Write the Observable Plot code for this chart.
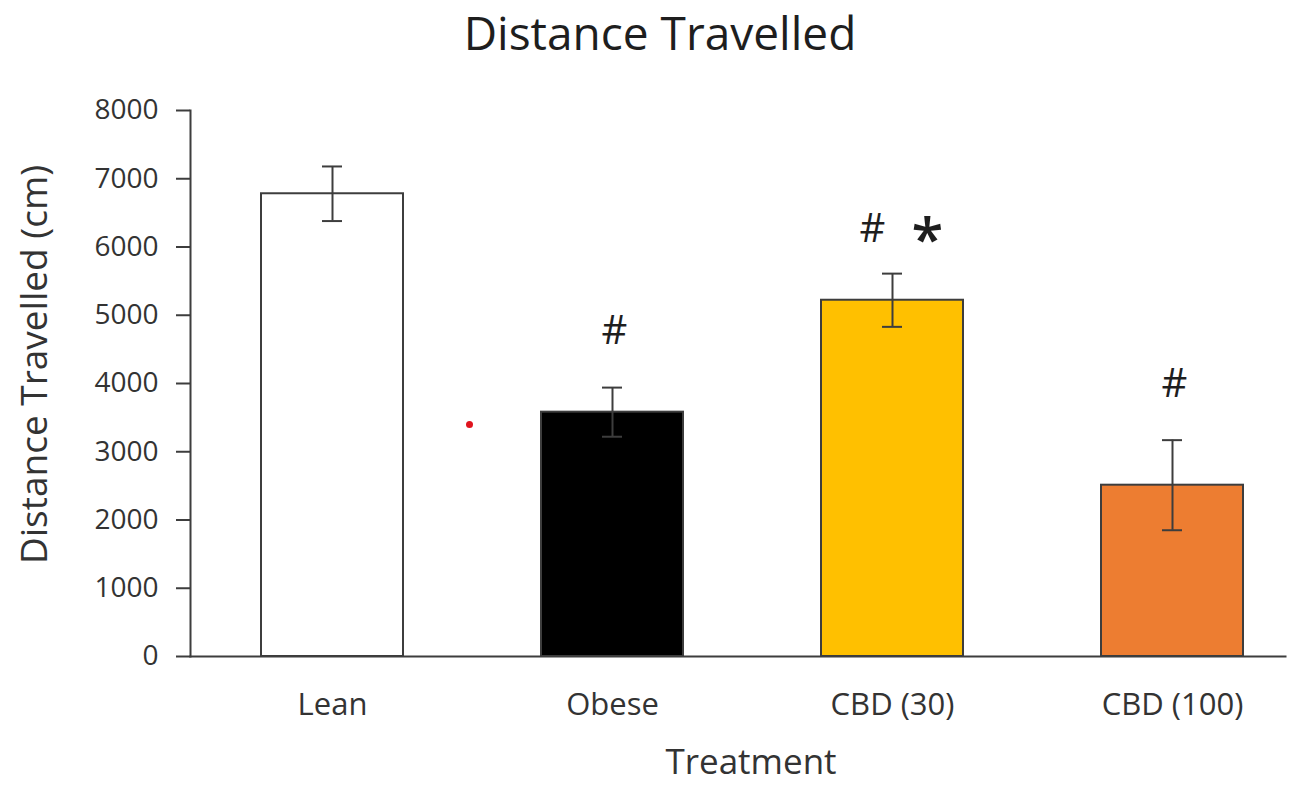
<!DOCTYPE html>
<html>
<head>
<meta charset="utf-8">
<script src="https://cdn.jsdelivr.net/npm/d3@7"></script>
<script src="https://cdn.jsdelivr.net/npm/@observablehq/plot@0.6"></script>
<style>
  html, body { margin: 0; padding: 0; background: #fff; }
  #wrap { width: 1294px; height: 785px; position: relative; overflow: hidden; }
  #title { height: 70px; width: 1294px; text-align: center; box-sizing: border-box; padding-left: 26px;
           font-family: "Open Sans", sans-serif; font-size: 46px; color: #1e1e1e; line-height: 64px; }
</style>
</head>
<body>
<div id="wrap">
  <div id="title">Distance Travelled</div>
  <div id="chart"></div>
</div>
<script>
const categories = ["Lean", "Obese", "CBD (30)", "CBD (100)"];
const means = [6780, 3580, 5220, 2510];
const errors = [400, 360, 390, 660];
const fills = ["#ffffff", "#000000", "#ffc000", "#ed7d31"];
const hashMarks = ["", "#", "#", "#"];
const starMarks = ["", "", "*", ""];
const yTicks = [0, 1000, 2000, 3000, 4000, 5000, 6000, 7000, 8000];
const stray = [{c: "Obese", v: 3400}];

const data = categories.map((c, i) => ({c, mean: means[i], err: errors[i], fill: fills[i], hash: hashMarks[i], star: starMarks[i]}));
const ink = "#3d3d3d";
const hashLone = data.filter(d => d.hash && !d.star);
const hashPair = data.filter(d => d.hash && d.star);

const chart = Plot.plot({
  width: 1294,
  height: 715,
  marginLeft: 190,
  marginRight: 9,
  marginTop: 40,
  marginBottom: 129,
  style: {fontFamily: "'Open Sans', sans-serif", background: "#fff", overflow: "visible"},
  x: {domain: categories, paddingInner: 0.493, paddingOuter: 0.2, align: 0.625, label: null},
  y: {domain: [0, 8000], label: null},
  color: {type: "identity"},
  marks: [
    Plot.axisY({ticks: yTicks, tickSize: 14, tickPadding: 18, fontSize: 28, letterSpacing: 1.5, color: "#333", stroke: ink, strokeWidth: 2, label: null, tickFormat: d => String(d)}),
    Plot.axisX({tickSize: 0, tickPadding: 36, fontSize: 31, color: "#333", label: null}),
    Plot.barY(data, {x: "c", y: "mean", fill: "fill", stroke: ink, strokeWidth: 2}),
    Plot.ruleX(data, {x: "c", y1: d => d.mean - d.err, y2: d => d.mean + d.err, stroke: ink, strokeWidth: 2}),
    Plot.tickY(data, {x: "c", y: d => d.mean + d.err, stroke: ink, strokeWidth: 2, inset: 61}),
    Plot.tickY(data, {x: "c", y: d => d.mean - d.err, stroke: ink, strokeWidth: 2, inset: 61}),
    Plot.frame({anchor: "left", stroke: ink, strokeWidth: 2}),
    Plot.frame({anchor: "bottom", stroke: ink, strokeWidth: 2}),
    Plot.text(hashLone, {x: "c", y: d => d.mean + d.err, text: "hash", dy: -56, dx: 2, fontSize: 40, fill: "#1e1e1e", lineAnchor: "middle"}),
    Plot.text(hashPair, {x: "c", y: d => d.mean + d.err, text: "hash", dy: -44, dx: -20, fontSize: 40, fill: "#1e1e1e", lineAnchor: "middle"}),
    Plot.text(hashPair, {x: "c", y: d => d.mean + d.err, text: "star", dy: -32, dx: 35, fontSize: 58, fontWeight: 600, fill: "#1e1e1e", lineAnchor: "middle"}),
    Plot.dot(stray, {x: "c", y: "v", r: 3.5, fill: "#e0141e", dx: -143}),
    Plot.text(["Treatment"], {frameAnchor: "bottom", dy: 106, dx: 13, fontSize: 35, fill: "#333", lineAnchor: "middle"}),
    Plot.text(["Distance Travelled (cm)"], {frameAnchor: "left", textAnchor: "middle", rotate: -90, dx: -155, dy: -19, fontSize: 37, fill: "#333", lineAnchor: "middle"})
  ]
});
document.getElementById("chart").appendChild(chart);
</script>
</body>
</html>
